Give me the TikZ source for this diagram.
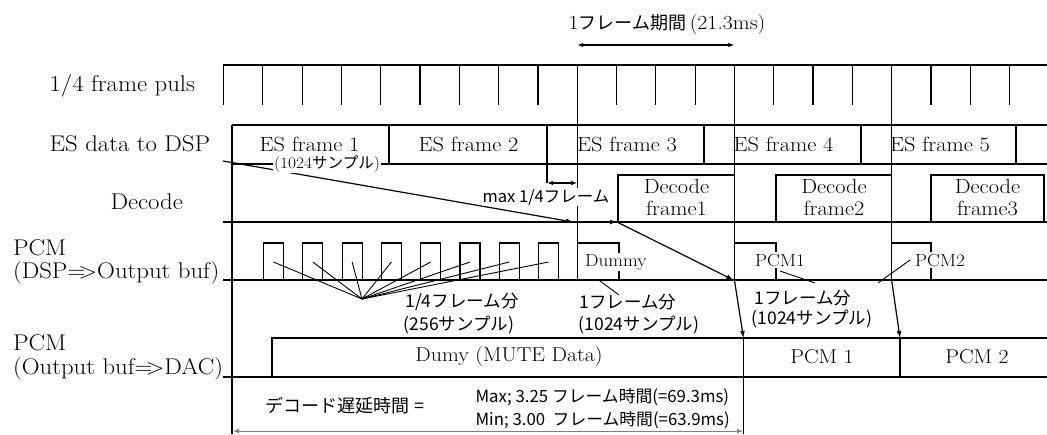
\documentclass[tikz,border=0pt]{standalone}
\usepackage{fontspec}
\setmainfont{Latin Modern Roman}[FakeStretch=1.09]
\newfontfamily\jp{Noto Sans CJK JP}
\usetikzlibrary{arrows.meta}
\newcommand\jps[2]{{\jp\fontsize{#1}{#1}\selectfont #2}}
\newcommand\arr{=\kern-7pt>}
\begin{document}
\begin{tikzpicture}[x=1pt,y=-1pt,line width=1.2pt,
  every node/.style={inner sep=0pt},
  rowlbl/.style={anchor=base west,font=\fontsize{22.7}{27}\selectfont},
  boxtxt/.style={font=\fontsize{20.5}{23.5}\selectfont,anchor=base},
  pcmtxt/.style={font=\fontsize{17.5}{20}\selectfont,fill=white,inner sep=1.5pt,anchor=base west},
  jplbl/.style={font=\jp\fontsize{17.5}{21}\selectfont},
  tip/.style={-{Latex[length=7pt,width=5pt]}},
  dtip/.style={{Latex[length=6pt,width=4.5pt]}-{Latex[length=6pt,width=4.5pt]}},
  thin lead/.style={line width=0.9pt}]
\useasboundingbox (0,0) rectangle (1047,434);
\fill[white] (0,0) rectangle (1047,434);
% frame boundaries
\coordinate (F1) at (577.2,0);
\coordinate (F2) at (734.4,0);
\coordinate (F3) at (891.6,0);

% ---------- row labels
\node[rowlbl] (lpuls) at (49,91) {1/4 frame puls};
\node[rowlbl] (les) at (49,151.5) {ES data to DSP};
\node[rowlbl] (ldec) at (110,209) {Decode};
\node[rowlbl] (lpcm1) at (12.5,255) {PCM};
\node[rowlbl] (lpcm1b) at (12.5,278) {(DSP\arr Output buf)};
\node[rowlbl] (lpcm2) at (12.5,350) {PCM};
\node[rowlbl] (lpcm2b) at (12.5,374) {(Output buf\arr DAC)};

% ---------- top annotation
\node (ttl) at (667,25) {{\fontsize{20}{20}\selectfont 1}\jps{18}{フレーム期間} {\fontsize{20}{20}\selectfont(21.3ms)}};
\draw[dtip] (F1 |- 0,45) -- (F2 |- 0,45);

% ---------- 1/4 frame pulses
\draw (223.5,105) -- (223.5,65) -- (1047,65);
\foreach \k in {1,...,8,10,11,12,14,15,16,18,19,20}
  \draw (223.5+39.3*\k,65) -- ++(0,40);
% long frame lines
\draw (F1 |- 0,65) -- (F1 |- 0,280);
\draw (F2 |- 0,65) -- (F2 |- 0,280);
\draw (F3 |- 0,65) -- (F3 |- 0,280);

% ---------- ES row
\draw (232,125) -- (1047,125);
\draw (232,164) -- (1047,164);
\draw (232,125) -- (232,434);
\foreach \x in {389,547,704,861,1016} \draw (\x,125) -- (\x,164);
\node[boxtxt] (es1) at (309.5,151.5) {ES frame 1};
\node[boxtxt] (es2) at (468.5,151.5) {ES frame 2};
\node[boxtxt] (es3) at (627,151.5) {ES frame 3};
\node[boxtxt] (es4) at (783.5,151.5) {ES frame 4};
\node[boxtxt] (es5) at (940,151.5) {ES frame 5};

% max 1/4 frame
\draw (547,164) -- (547,183);
\draw[dtip] (547,183) -- (F1 |- 0,183);

% ---------- Decode row
\draw (223,222) -- (1047,222);
\draw (618,222) -- (618,175) -- (F2 |- 0,175);
\draw (776,222) -- (776,175) -- (F3 |- 0,175);
\draw (931,222) -- (931,175) -- (1044,175) -- (1044,222);
\node[boxtxt] (d1a) at (676.5,193) {Decode};
\node[boxtxt] (d1b) at (676.5,215) {frame1};
\node[boxtxt] (d2a) at (834,193) {Decode};
\node[boxtxt] (d2b) at (834,215) {frame2};
\node[boxtxt] (d3a) at (987.5,193) {Decode};
\node[boxtxt] (d3b) at (987.5,215) {frame3};

% ES frame 1 -> decode
\coordinate (esA) at (223,161);
\coordinate (esB) at (573,222);
\draw[tip] (esA) -- (esB);
\node[fill=white,inner sep=1pt] (es1n) at (327,164) {{\fontsize{16}{17}\selectfont(1024}\jps{15.5}{サンプル}{\fontsize{16}{17}\selectfont)}};
\node[font=\jp\fontsize{16.5}{20}\selectfont,fill=white,inner sep=1pt] (max14) at (546,197) {max 1/4フレーム};
\coordinate (decS) at (617,222);
\draw[tip] (F1 |- 0,222) -- (decS);

% ---------- PCM (DSP => Output buf)
\draw (223,280) -- (1047,280);
\foreach \k in {0,...,7}
  \draw (263.5+39.3*\k,280) -- ++(0,-37) -- ++(20,0) -- ++(0,37);
\draw (F1 |- 0,243) -- (619,243) -- (619,280);
\draw (F2 |- 0,243) -- (776,243) -- (776,280);
\draw (F3 |- 0,243) -- (931,243) -- (931,280);
\node[pcmtxt] (dummy) at (583,266) {Dummy};
\node[pcmtxt] (pcm1) at (753,266) {PCM1};
\node[pcmtxt] (pcm2) at (913,266) {PCM2};

% decode frame1 -> PCM1
\coordinate (p1in) at (F2 |- 0,280);
\draw[tip] (decS) -- ([xshift=-1pt]p1in);

% 1/4 frame leaders
\coordinate (conv) at (362,299);
\foreach \k in {0,...,7}
  \draw[thin lead] (conv) -- (273.5+39.3*\k,262);
\node[jplbl] (q1) at (462,302) {1/4フレーム分};
\node[jplbl] (q2) at (459,325) {(256サンプル)};

% middle label
\node[jplbl] (m1) at (628,302) {1フレーム分};
\node[jplbl] (m2) at (639,325) {(1024サンプル)};
\draw[thin lead] (600,281) -- (619,295);

% right label
\node[jplbl] (r1) at (803,298) {1フレーム分};
\node[jplbl] (r2) at (812,319) {(1024サンプル)};
\draw[thin lead] (780,271) -- (815,283);
\draw[thin lead] (878,283) -- (910,260);

% ---------- PCM (Output buf => DAC)
\draw (223,377) -- (1047,377);
\draw (272,377) -- (272,338) -- (1047,338);
\coordinate (o1) at (743.5,338);
\coordinate (o2) at (900,338);
\draw (o1) -- (743.5,434);
\draw (o2) -- (900,377);
\draw[tip] (F2 |- 0,280) -- (o1);
\draw[tip] (F3 |- 0,280) -- (o2);
\node[font=\fontsize{20}{24}\selectfont] (mute) at (509,357) {Dumy (MUTE Data)};
\node[font=\fontsize{20}{24}\selectfont] (op1) at (822,357) {PCM 1};
\node[font=\fontsize{20}{24}\selectfont] (op2) at (977,357) {PCM 2};

% ---------- delay
\node[jplbl,font=\jp\fontsize{18}{21}\selectfont] (dly) at (345,406) {デコード遅延時間 =};
\node[font=\jp\fontsize{16.8}{20}\selectfont,anchor=west] (dmax) at (475,397) {Max; 3.25 フレーム時間(=69.3ms)};
\node[font=\jp\fontsize{16.8}{20}\selectfont,anchor=west] (dmin) at (475,420) {Min; 3.00\ \ フレーム時間(=63.9ms)};
\coordinate (dl) at (233,431);
\coordinate (dr) at (743,431);
\draw[dtip,gray,line width=0.7pt] (dl) -- (dr);
\end{tikzpicture}
\end{document}
